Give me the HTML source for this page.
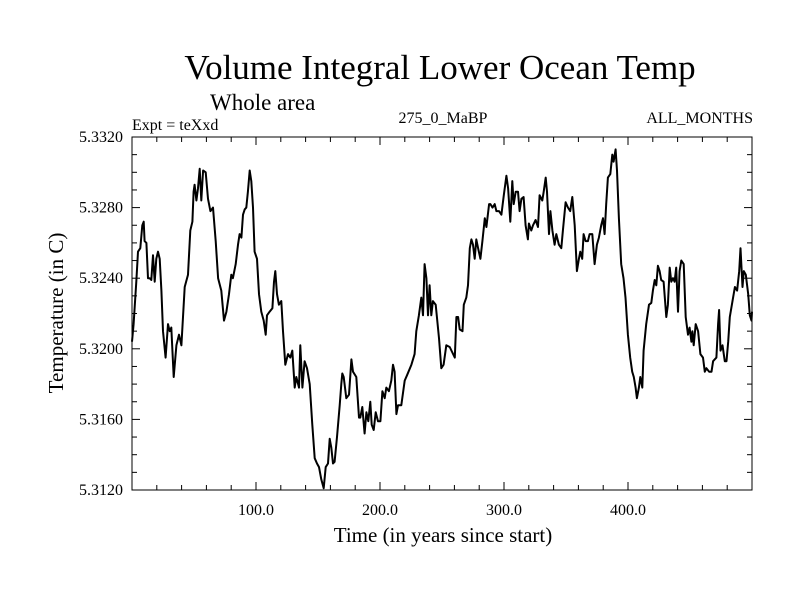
<!DOCTYPE html>
<html><head><meta charset="utf-8"><style>
body{margin:0;background:#fff;}
svg text{font-family:"Liberation Serif",serif;fill:#000;}
</style></head><body>
<svg id="chart" width="800" height="600" xmlns="http://www.w3.org/2000/svg">
<text x="440" y="79" font-size="35" text-anchor="middle">Volume Integral Lower Ocean Temp</text>
<text x="210" y="110" font-size="23">Whole area</text>
<text x="132" y="130" font-size="16">Expt = teXxd</text>
<text x="443" y="123" font-size="16" text-anchor="middle">275_0_MaBP</text>
<text x="753" y="123" font-size="16" text-anchor="end">ALL_MONTHS</text>
<text x="443" y="542" font-size="21" text-anchor="middle">Time (in years since start)</text>
<text transform="translate(63,313) rotate(-90)" font-size="21" text-anchor="middle">Temperature (in C)</text>
<g id="axes"></g>
<path id="series" fill="none" stroke="#000" stroke-width="2" stroke-linejoin="round"/>
<rect x="132" y="137" width="620" height="353" fill="none" stroke="#000" stroke-width="1"/>
</svg>
<script>
const years=[0,1.3,3.5,4.8,6.7,8.3,9.4,10.2,11.6,12.9,14.2,15.6,16.9,18.3,19.6,21.0,22.3,23.7,25.0,27.1,29.0,30.4,31.7,33.6,35.8,37.9,39.8,42.5,45.2,47.0,48.7,49.7,50.5,51.9,53.2,54.6,55.9,57.3,59.4,61.3,63.2,65.3,67.5,69.4,72.0,74.2,76.1,78.2,80.1,81.4,83.6,85.5,86.8,88.2,89.5,90.9,92.2,93.5,94.9,96.2,97.6,98.9,100.8,102.4,104.3,106.2,107.8,108.9,111.0,113.2,114.5,115.6,116.9,118.5,120.4,121.8,123.6,125.8,127.7,129.3,131.2,132.5,134.7,135.7,137.4,139.2,141.1,143.3,145.4,147.3,149.2,150.8,152.7,154.6,156.2,158.1,159.4,160.7,162.1,163.4,165.3,167.5,168.8,169.6,170.7,172.8,175.0,176.9,178.2,180.9,183.1,184.1,185.7,187.6,189.0,190.6,192.2,193.3,194.9,196.5,198.4,200.3,201.9,203.8,205.1,207.2,209.1,210.5,211.8,213.2,214.5,217.2,219.9,221.8,225.3,227.9,229.3,231.4,233.3,234.7,236.0,237.4,238.7,240.0,241.4,242.7,244.9,247.6,249.4,251.3,253.5,256.2,260.3,261.6,263.0,264.3,266.5,267.6,269.6,271.0,272.4,273.7,275.0,276.4,277.7,279.1,281.0,282.6,284.5,285.8,288.0,289.0,290.7,292.5,293.9,296.0,297.9,299.8,301.9,303.3,305.1,306.7,307.8,309.4,311.3,312.6,314.0,315.8,317.4,319.3,320.1,322.0,323.4,325.5,327.4,328.7,330.9,332.0,333.6,334.7,336.3,337.4,339.0,340.8,342.2,344.3,346.2,347.5,349.7,351.6,353.4,355.1,357.0,358.8,360.4,361.5,363.1,364.2,365.8,367.7,369.0,371.2,373.1,374.9,376.5,378.4,379.8,381.1,382.4,383.8,385.7,387.3,388.4,390.0,391.1,392.7,394.5,396.4,398.0,399.9,401.8,403.4,404.7,406.1,407.2,408.8,409.9,411.5,412.6,414.7,416.9,418.8,420.1,421.5,422.8,424.1,425.5,426.8,428.7,430.9,432.2,433.6,434.9,436.3,437.6,438.9,440.3,441.6,443.0,444.9,446.5,448.4,449.7,451.1,451.9,453.0,454.6,456.5,458.4,460.5,461.9,463.2,465.4,467.3,468.6,471.3,472.7,473.5,474.6,476.2,478.1,479.4,480.8,482.1,484.3,486.2,488.0,489.7,490.7,492.3,493.4,495.0,496.9,498.2,499.6,500];
const temps=[5.3204,5.3214,5.3238,5.3255,5.3257,5.3270,5.3272,5.3261,5.3260,5.3240,5.3240,5.3239,5.3253,5.3238,5.3251,5.3255,5.3251,5.3233,5.3210,5.3195,5.3214,5.3210,5.3212,5.3184,5.3202,5.3208,5.3202,5.3235,5.3242,5.3267,5.3272,5.3289,5.3293,5.3284,5.3291,5.3302,5.3284,5.3301,5.3300,5.3285,5.3278,5.3280,5.3261,5.3240,5.3233,5.3216,5.3221,5.3231,5.3242,5.3240,5.3248,5.3259,5.3265,5.3263,5.3276,5.3279,5.3280,5.3289,5.3301,5.3295,5.3280,5.3255,5.3251,5.3231,5.3221,5.3216,5.3208,5.3219,5.3221,5.3223,5.3238,5.3244,5.3231,5.3225,5.3227,5.3210,5.3191,5.3197,5.3195,5.3199,5.3178,5.3184,5.3178,5.3202,5.3178,5.3193,5.3189,5.3180,5.3157,5.3138,5.3135,5.3133,5.3126,5.3121,5.3133,5.3135,5.3149,5.3144,5.3135,5.3136,5.3150,5.3168,5.3180,5.3186,5.3184,5.3172,5.3174,5.3194,5.3187,5.3184,5.3161,5.3161,5.3167,5.3152,5.3164,5.3159,5.3170,5.3157,5.3154,5.3164,5.3159,5.3159,5.3176,5.3172,5.3178,5.3176,5.3182,5.3191,5.3187,5.3163,5.3168,5.3168,5.3182,5.3185,5.3191,5.3197,5.3210,5.3219,5.3229,5.3219,5.3248,5.3240,5.3219,5.3236,5.3219,5.3227,5.3225,5.3206,5.3189,5.3191,5.3202,5.3201,5.3195,5.3218,5.3218,5.3211,5.3210,5.3225,5.3229,5.3236,5.3257,5.3262,5.3259,5.3251,5.3262,5.3257,5.3251,5.3261,5.3274,5.3269,5.3282,5.3282,5.3280,5.3282,5.3278,5.3278,5.3276,5.3287,5.3298,5.3291,5.3272,5.3295,5.3282,5.3289,5.3289,5.3278,5.3285,5.3286,5.3270,5.3262,5.3271,5.3267,5.3270,5.3273,5.3269,5.3287,5.3284,5.3289,5.3297,5.3289,5.3265,5.3278,5.3267,5.3259,5.3265,5.3259,5.3257,5.3267,5.3283,5.3280,5.3278,5.3286,5.3270,5.3244,5.3251,5.3255,5.3251,5.3265,5.3261,5.3261,5.3265,5.3265,5.3248,5.3259,5.3263,5.3270,5.3274,5.3265,5.3282,5.3297,5.3299,5.3310,5.3306,5.3313,5.3301,5.3274,5.3248,5.3240,5.3229,5.3208,5.3195,5.3187,5.3184,5.3178,5.3172,5.3178,5.3184,5.3178,5.3199,5.3214,5.3225,5.3226,5.3233,5.3239,5.3236,5.3247,5.3244,5.3239,5.3238,5.3218,5.3225,5.3246,5.3238,5.3240,5.3238,5.3246,5.3221,5.3244,5.3250,5.3248,5.3218,5.3208,5.3212,5.3204,5.3210,5.3202,5.3214,5.3210,5.3197,5.3195,5.3187,5.3189,5.3187,5.3187,5.3193,5.3195,5.3214,5.3222,5.3199,5.3202,5.3193,5.3193,5.3204,5.3218,5.3227,5.3235,5.3233,5.3244,5.3257,5.3235,5.3244,5.3242,5.3231,5.3219,5.3216,5.3221];
const xTickLabels=["100.0","200.0","300.0","400.0"];
const xTickValues=[100,200,300,400];
const yTickLabels=["5.3120","5.3160","5.3200","5.3240","5.3280","5.3320"];
const yTickValues=[5.312,5.316,5.320,5.324,5.328,5.332];

const L=132,R=752,T=137,B=490,X0=0,X1=500,Y0=5.312,Y1=5.332;
const sx=v=>L+(v-X0)/(X1-X0)*(R-L);
const sy=v=>B-(v-Y0)/(Y1-Y0)*(B-T);
const NS="http://www.w3.org/2000/svg";
const axes=document.getElementById('axes');
function line(x1,y1,x2,y2,name){
  const l=document.createElementNS(NS,'line');
  l.setAttribute('x1',x1);l.setAttribute('y1',y1);l.setAttribute('x2',x2);l.setAttribute('y2',y2);
  l.setAttribute('stroke','#000');l.setAttribute('stroke-width','1');
  
  
  axes.appendChild(l);
}
function text(x,y,s,anchor,name){
  const t=document.createElementNS(NS,'text');
  t.setAttribute('x',x);t.setAttribute('y',y);t.setAttribute('font-size','16');t.setAttribute('text-anchor',anchor);
  t.textContent=s;
  
  
  axes.appendChild(t);
}
for(let v=20;v<500;v+=20){
  const x=sx(v), major=(v%100===0), len=major?8:5;
  line(x,B,x,B-len,'x-tick');
  line(x,T,x,T+len,'x-tick-top');
}
for(let v=Y0+0.001;v<Y1-0.0005;v+=0.001){
  const y=sy(v), major=Math.abs(Math.round(v*1000)%4)===0, len=major?8:5;
  line(L,y,L+len,y,'y-tick');
  line(R,y,R-len,y,'y-tick-right');
}
xTickValues.forEach((v,i)=>text(sx(v),B+25,xTickLabels[i],'middle','x-tick-label'));
yTickValues.forEach((v,i)=>text(L-9,sy(v)+5,yTickLabels[i],'end','y-tick-label'));
let d='';
years.forEach((yr,i)=>{d+=(i?'L':'M')+sx(yr).toFixed(1)+','+sy(temps[i]).toFixed(1);});
document.getElementById('series').setAttribute('d',d);
</script>
</body></html>
